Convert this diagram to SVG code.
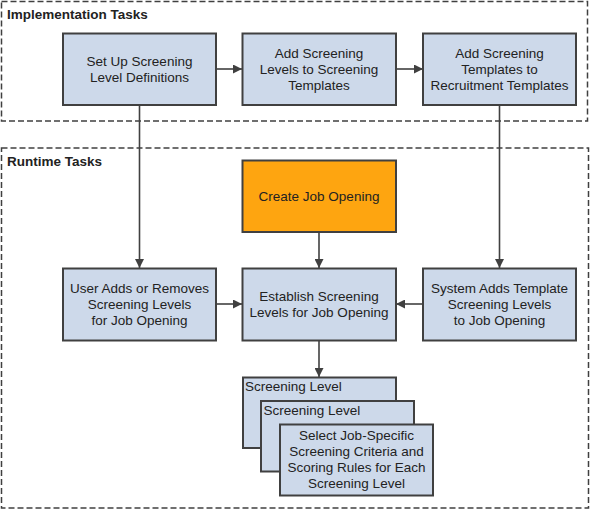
<svg xmlns="http://www.w3.org/2000/svg" width="591" height="510" viewBox="0 0 591 510">
<style>
.frame{fill:none;stroke:#404040;stroke-width:1.5;stroke-dasharray:6,3}
.box{fill:#cdd9ea;stroke:#404040;stroke-width:2}
.org{fill:#fea510;stroke:#404040;stroke-width:2}
.t{font-family:"Liberation Sans",Arial,sans-serif;font-size:13.5px;fill:#222;text-anchor:middle}
.tl{font-family:"Liberation Sans",Arial,sans-serif;font-size:13.5px;fill:#222}
.h{font-family:"Liberation Sans",Arial,sans-serif;font-size:13.5px;font-weight:bold;fill:#222}
.c{fill:none;stroke:#404040;stroke-width:1.6}
</style>
<defs>
<marker id="ah" viewBox="0 0 10 10" refX="10" refY="5" markerWidth="9" markerHeight="9" markerUnits="userSpaceOnUse" orient="auto">
<path d="M0,0 L10,5 L0,10 z" fill="#404040"/>
</marker>
</defs>
<g id="frames">
<rect class="frame" x="1.5" y="1.5" width="586" height="119.5"/>
<text class="h" x="7" y="18.5">Implementation Tasks</text>
<rect class="frame" x="1.5" y="148" width="587" height="360"/>
<text class="h" x="7" y="166">Runtime Tasks</text>
</g>
<g id="connectors">
<line class="c" x1="216" y1="69" x2="242" y2="69" marker-end="url(#ah)"/>
<line class="c" x1="396" y1="69" x2="423" y2="69" marker-end="url(#ah)"/>
<line class="c" x1="139.5" y1="105" x2="139.5" y2="268" marker-end="url(#ah)"/>
<line class="c" x1="499.5" y1="105" x2="499.5" y2="268" marker-end="url(#ah)"/>
<line class="c" x1="319" y1="232" x2="319" y2="268" marker-end="url(#ah)"/>
<line class="c" x1="216" y1="304" x2="242" y2="304" marker-end="url(#ah)"/>
<line class="c" x1="423" y1="304" x2="396" y2="304" marker-end="url(#ah)"/>
<line class="c" x1="319" y1="341" x2="319" y2="377" marker-end="url(#ah)"/>
</g>
<g id="n1">
<rect class="box" x="63" y="33.5" width="153" height="71.5"/>
<text class="t" x="139.5" y="65.5">Set Up Screening</text>
<text class="t" x="139.5" y="81.5">Level Definitions</text>
</g>
<g id="n2">
<rect class="box" x="242.5" y="33.5" width="153.5" height="71.5"/>
<text class="t" x="319" y="57.5">Add Screening</text>
<text class="t" x="319" y="73.5">Levels to Screening</text>
<text class="t" x="319" y="89.5">Templates</text>
</g>
<g id="n3">
<rect class="box" x="423" y="33.5" width="153" height="71.5"/>
<text class="t" x="499.5" y="57.5">Add Screening</text>
<text class="t" x="499.5" y="73.5">Templates to</text>
<text class="t" x="499.5" y="89.5">Recruitment Templates</text>
</g>
<g id="n4">
<rect class="org" x="242.5" y="160.5" width="153.5" height="71.5"/>
<text class="t" x="319" y="200.5">Create Job Opening</text>
</g>
<g id="n5">
<rect class="box" x="63" y="268.5" width="153" height="72"/>
<text class="t" x="139.5" y="292.5">User Adds or Removes</text>
<text class="t" x="139.5" y="308.5">Screening Levels</text>
<text class="t" x="139.5" y="324.5">for Job Opening</text>
</g>
<g id="n6">
<rect class="box" x="242.5" y="268.5" width="153.5" height="72"/>
<text class="t" x="319" y="300.5">Establish Screening</text>
<text class="t" x="319" y="316.5">Levels for Job Opening</text>
</g>
<g id="n7">
<rect class="box" x="423" y="268.5" width="153" height="72"/>
<text class="t" x="499.5" y="292.5">System Adds Template</text>
<text class="t" x="499.5" y="308.5">Screening Levels</text>
<text class="t" x="499.5" y="324.5">to Job Opening</text>
</g>
<g id="n8">
<rect class="box" x="243" y="377.5" width="153" height="70.5"/>
<text class="tl" x="245" y="391">Screening Level</text>
</g>
<g id="n9">
<rect class="box" x="261" y="401" width="153" height="70.5"/>
<text class="tl" x="263.5" y="414.5">Screening Level</text>
</g>
<g id="n10">
<rect class="box" x="280" y="424.5" width="153" height="71"/>
<text class="t" x="356.5" y="440">Select Job-Specific</text>
<text class="t" x="356.5" y="456">Screening Criteria and</text>
<text class="t" x="356.5" y="472">Scoring Rules for Each</text>
<text class="t" x="356.5" y="488">Screening Level</text>
</g>
</svg>
